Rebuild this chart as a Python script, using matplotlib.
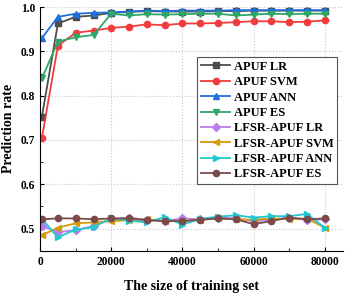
import numpy as np
import matplotlib.pyplot as plt
from matplotlib.ticker import MultipleLocator

plt.rcParams['font.family'] = ['Liberation Serif', 'DejaVu Serif']
plt.rcParams['font.weight'] = 'bold'

sizes = [500, 5000, 10000, 15000, 20000, 25000, 30000, 35000, 40000,
         45000, 50000, 55000, 60000, 65000, 70000, 75000, 80000]

apuf_lr = [0.753, 0.963, 0.978, 0.981, 0.987, 0.989, 0.991, 0.990, 0.990,
           0.990, 0.991, 0.991, 0.992, 0.992, 0.992, 0.992, 0.992]
apuf_svm = [0.705, 0.913, 0.942, 0.947, 0.953, 0.956, 0.961, 0.959, 0.963,
            0.963, 0.964, 0.966, 0.968, 0.968, 0.966, 0.967, 0.970]
apuf_ann = [0.930, 0.978, 0.985, 0.987, 0.988, 0.990, 0.992, 0.991, 0.992,
            0.992, 0.992, 0.993, 0.993, 0.993, 0.993, 0.993, 0.993]
apuf_es = [0.839, 0.922, 0.932, 0.937, 0.985, 0.981, 0.984, 0.983, 0.984,
           0.985, 0.985, 0.981, 0.983, 0.985, 0.984, 0.985, 0.985]
lfsr_lr = [0.506, 0.492, 0.496, 0.506, 0.521, 0.525, 0.520, 0.517, 0.523,
           0.521, 0.525, 0.523, 0.517, 0.520, 0.525, 0.519, 0.521]
lfsr_svm = [0.485, 0.502, 0.512, 0.514, 0.517, 0.519, 0.521, 0.517, 0.517,
            0.520, 0.523, 0.521, 0.520, 0.523, 0.521, 0.523, 0.502]
lfsr_ann = [0.522, 0.480, 0.498, 0.503, 0.524, 0.518, 0.514, 0.526, 0.509,
            0.522, 0.527, 0.530, 0.525, 0.528, 0.528, 0.533, 0.502]
lfsr_es = [0.521, 0.523, 0.523, 0.521, 0.523, 0.523, 0.519, 0.517, 0.517,
           0.520, 0.523, 0.521, 0.510, 0.517, 0.525, 0.521, 0.523]

series = [
    ("APUF LR", apuf_lr, '#4d4d4d', 's'),
    ("APUF SVM", apuf_svm, '#f03c3c', 'o'),
    ("APUF ANN", apuf_ann, '#1f6fe0', '^'),
    ("APUF ES", apuf_es, '#2ea866', 'v'),
    ("LFSR-APUF LR", lfsr_lr, '#b57ee8', 'D'),
    ("LFSR-APUF SVM", lfsr_svm, '#d49a08', '<'),
    ("LFSR-APUF ANN", lfsr_ann, '#1fc8d0', '>'),
    ("LFSR-APUF ES", lfsr_es, '#7b4a4a', 'o'),
]

fig, ax = plt.subplots(figsize=(3.46, 2.95), dpi=100)
fig.subplots_adjust(left=0.116, right=0.99, top=0.976, bottom=0.15)

for name, vals, color, marker in series:
    ms = 3.6 if marker == 'D' else 4.5
    ax.plot(sizes, vals, color=color, marker=marker, markersize=ms,
            linewidth=1.3, label=name)

ax.set_xlim(0, 85000)
ax.set_ylim(0.45, 1.0)
ax.xaxis.set_major_locator(MultipleLocator(20000))
ax.xaxis.set_minor_locator(MultipleLocator(10000))
ax.yaxis.set_major_locator(MultipleLocator(0.1))
ax.yaxis.set_minor_locator(MultipleLocator(0.05))
ax.tick_params(which='both', direction='in', labelsize=8.3)
ax.tick_params(which='major', length=3)
ax.tick_params(which='minor', length=2)
ax.grid(True, which='major', linestyle=':', color='#c8c8c8', linewidth=0.8)
ax.spines['top'].set_visible(False)
ax.spines['right'].set_visible(False)
for lbl in ax.get_xticklabels() + ax.get_yticklabels():
    lbl.set_fontweight('bold')

ax.set_xlabel("The size of training set", fontsize=10, fontweight='bold',
              labelpad=9)
ax.set_ylabel("Prediction rate", fontsize=10, fontweight='bold', labelpad=4)

leg = ax.legend(loc='upper left', bbox_to_anchor=(0.52, 0.795), fontsize=9,
                fancybox=False, edgecolor='#555555', framealpha=1,
                handlelength=2.3, labelspacing=0.27, borderpad=0.3,
                handletextpad=0.3, borderaxespad=0)
leg.get_frame().set_linewidth(0.8)
for t in leg.get_texts():
    t.set_fontweight('bold')

fig.savefig("out.png", dpi=100)
